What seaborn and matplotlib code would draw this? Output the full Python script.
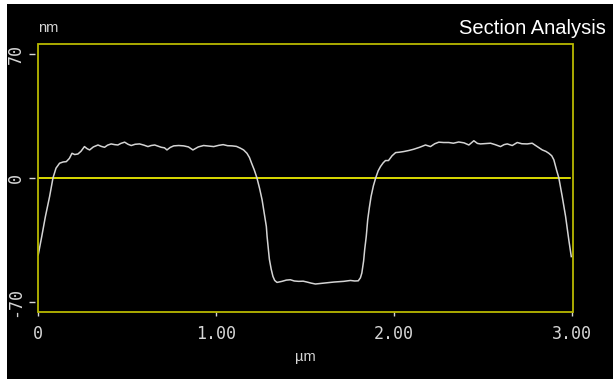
import matplotlib
matplotlib.use("Agg")
import matplotlib.pyplot as plt
from matplotlib.patches import Rectangle
import seaborn as sns

# Surface profile across two raised lines with a trench between them
position_um = [
    0.000, 0.020, 0.040, 0.064, 0.083, 0.100, 0.120, 0.140, 0.158, 0.175,
    0.190, 0.205, 0.223, 0.240, 0.260, 0.275, 0.289, 0.310, 0.336, 0.355,
    0.373, 0.390, 0.410, 0.430, 0.448, 0.465, 0.486, 0.505, 0.523, 0.545,
    0.570, 0.595, 0.617, 0.635, 0.655, 0.672, 0.692, 0.710, 0.724, 0.742,
    0.762, 0.790, 0.818, 0.845, 0.870, 0.900, 0.930, 0.960, 0.987, 1.015,
    1.040, 1.065, 1.090, 1.115, 1.137, 1.155, 1.174, 1.188, 1.200, 1.215,
    1.230, 1.245, 1.259, 1.268, 1.276, 1.283, 1.287, 1.294, 1.300, 1.310,
    1.320, 1.330, 1.343, 1.357, 1.371, 1.395, 1.418, 1.440, 1.465, 1.490,
    1.512, 1.535, 1.559, 1.580, 1.606, 1.635, 1.662, 1.690, 1.718, 1.740,
    1.756, 1.780, 1.800, 1.812, 1.820, 1.830, 1.836, 1.845, 1.853, 1.862,
    1.872, 1.885, 1.898, 1.912, 1.925, 1.940, 1.953, 1.970, 1.990, 2.010,
    2.030, 2.056, 2.085, 2.112, 2.145, 2.178, 2.206, 2.230, 2.253, 2.280,
    2.309, 2.335, 2.365, 2.395, 2.422, 2.450, 2.470, 2.487, 2.515, 2.544,
    2.570, 2.600, 2.620, 2.638, 2.666, 2.694, 2.720, 2.750, 2.778, 2.806,
    2.835, 2.855, 2.872, 2.888, 2.900, 2.915, 2.928, 2.947, 2.966, 2.984,
    2.998,
]
height_nm = [
    -43.5, -33.0, -22.0, -10.5, 0.0, 5.5, 8.3, 9.0, 9.2, 11.0,
    13.9, 13.2, 13.5, 15.0, 17.7, 16.5, 15.8, 17.5, 18.6, 17.8,
    17.3, 18.5, 19.2, 18.8, 18.6, 19.5, 20.2, 19.0, 18.3, 19.0,
    19.2, 18.5, 17.7, 18.3, 18.6, 18.0, 17.3, 17.0, 15.8, 17.2,
    18.1, 18.3, 18.1, 17.5, 15.8, 17.5, 18.3, 18.0, 17.7, 18.4,
    18.8, 18.2, 18.1, 17.8, 16.8, 15.8, 13.9, 11.5, 8.3, 4.5,
    0.0, -6.0, -12.4, -18.0, -23.0, -27.5, -33.0, -40.0, -46.0, -51.5,
    -55.7, -58.0, -59.1, -58.8, -58.5, -57.8, -57.6, -58.3, -58.5, -58.4,
    -58.9, -59.5, -60.0, -59.8, -59.5, -59.2, -58.9, -58.7, -58.5, -58.2,
    -58.0, -58.3, -58.2, -56.5, -53.8, -47.0, -40.6, -33.0, -23.7, -17.0,
    -10.5, -4.5, 0.0, 4.0, 6.4, 8.5, 9.8, 9.8, 12.5, 14.3,
    14.5, 14.9, 15.5, 16.2, 17.3, 18.6, 17.7, 19.3, 20.2, 20.0,
    20.0, 19.6, 20.3, 19.8, 18.6, 21.0, 19.5, 19.2, 19.4, 19.6,
    18.8, 17.7, 18.8, 19.2, 18.3, 20.0, 19.3, 19.2, 19.6, 17.7,
    15.8, 15.0, 13.9, 12.5, 10.2, 4.5, 0.0, -10.5, -21.8, -35.0,
    -44.5,
]

x_ticks = [0, 1, 2, 3]
x_tick_labels = ["0", "1.00", "2.00", "3.00"]
y_ticks = [-70, 0, 70]
y_tick_labels = ["-70", "0", "70"]

W, H = 613, 379
fig = plt.figure(figsize=(W / 100, H / 100), dpi=100, facecolor="white")
# black panel with a thin white strip on the left and top edges
fig.patches.append(Rectangle((7 / W, 0), 1 - 7 / W, 1 - 4 / H,
                             transform=fig.transFigure, facecolor="black",
                             edgecolor="none", zorder=-10))

left, right, top, bottom = 37.7, 572.7, 44.0, 312.3
ax = fig.add_axes([left / W, 1 - bottom / H, (right - left) / W, (bottom - top) / H])
ax.set_facecolor("black")

sns.lineplot(x=position_um, y=height_nm, ax=ax, color="#d4d4d4",
             linewidth=1.1, sort=False, estimator=None)

ax.axhline(0, xmin=0, xmax=0.995, color="#ffff00", linewidth=1.2, zorder=1)

ax.set_xlim(-0.003, 3.006)
ax.set_ylim(-76, 75.7)

for side in ["top", "right", "bottom", "left"]:
    ax.spines[side].set_visible(False)
ax.spines["left"].set_position(("outward", 2))
ax.add_patch(Rectangle((0, 0), 1, 1, transform=ax.transAxes, fill=False,
                       edgecolor="#b8b800", linewidth=1.3, clip_on=False,
                       zorder=3))

tick_color = "#d6d6d6"
ax.set_xticks(x_ticks)
ax.set_xticklabels(x_tick_labels, fontfamily="DejaVu Sans Mono", fontsize=12,
                   color=tick_color)
ax.set_yticks(y_ticks)
ax.set_yticklabels(y_tick_labels, fontfamily="DejaVu Sans Mono", fontsize=12,
                   color=tick_color, rotation=90, va="center")
ax.tick_params(axis="x", direction="out", length=3.0, width=1.0,
               color=tick_color, pad=6.5)
ax.tick_params(axis="y", direction="out", length=4.3, width=1.0,
               color=tick_color, pad=3.2)
ax.set_xlabel("")
ax.set_ylabel("")

fig.text(606 / W, 1 - 34.5 / H, "Section Analysis", ha="right", va="baseline",
         fontsize=14.5, color="white", family="Liberation Sans")
fig.text(38 / W, 1 - 32 / H, "nm", ha="left", va="baseline",
         fontsize=10.5, color=tick_color, family="Liberation Sans")
fig.text(305 / W, 1 - 361 / H, "µm", ha="center", va="baseline",
         fontsize=10.5, color=tick_color, family="Liberation Sans")

fig.savefig("out.png", dpi=100, facecolor=fig.get_facecolor())
